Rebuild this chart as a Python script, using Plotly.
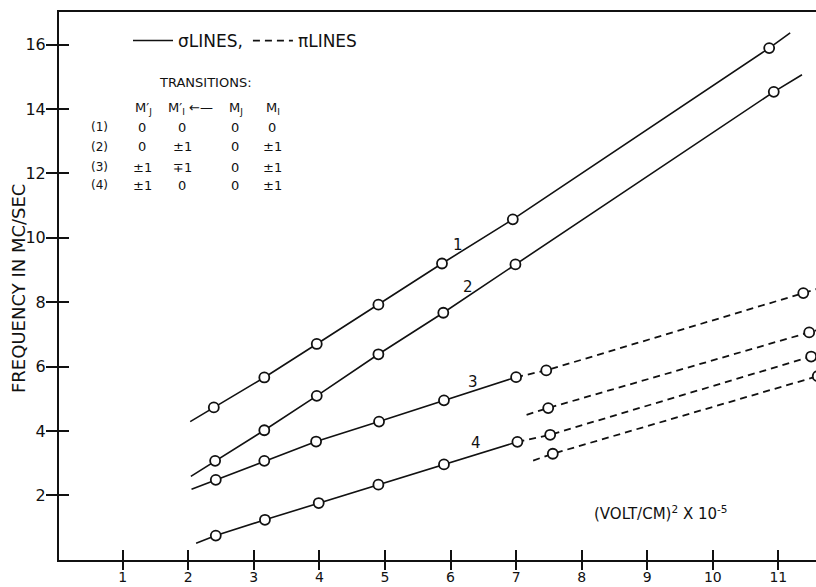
import plotly.graph_objects as go

# ---------------- data ----------------
# sigma lines: measured points (x = (VOLT/CM)^2 x 1e-5, y = MC/SEC)
s1_x = [2.39, 3.16, 3.96, 4.90, 5.87, 6.95, 10.86]
s1_y = [4.73, 5.66, 6.70, 7.92, 9.20, 10.57, 15.89]
s2_x = [2.41, 3.16, 3.96, 4.90, 5.89, 6.99, 10.93]
s2_y = [3.07, 4.02, 5.09, 6.38, 7.67, 9.17, 14.53]
s3_x = [2.42, 3.16, 3.95, 4.91, 5.90, 7.00]
s3_y = [2.48, 3.07, 3.67, 4.29, 4.95, 5.67]
s4_x = [2.42, 3.17, 3.99, 4.90, 5.90, 7.02]
s4_y = [0.75, 1.24, 1.76, 2.33, 2.96, 3.66]
# fitted-line end points (start, end) of the sigma lines
s1_line_x = [2.03, 11.18]; s1_line_y = [4.29, 16.36]
s2_line_x = [2.04, 11.36]; s2_line_y = [2.59, 15.06]
s3_line_x = [2.05, 7.00];  s3_line_y = [2.19, 5.67]
s4_line_x = [2.12, 7.02];  s4_line_y = [0.51, 3.66]

# pi lines: measured points
pa_x = [7.46, 11.38]; pa_y = [5.88, 8.28]
pb_x = [7.49, 11.47]; pb_y = [4.71, 7.06]
pc_x = [7.52, 11.50]; pc_y = [3.88, 6.31]
pd_x = [7.56, 11.60]; pd_y = [3.29, 5.70]
# pi line end points (start, end)
pa_line_x = [7.00, 11.62]; pa_line_y = [5.67, 8.43]
pb_line_x = [7.16, 11.62]; pb_line_y = [4.50, 7.15]
pc_line_x = [7.02, 11.62]; pc_line_y = [3.66, 6.38]
pd_line_x = [7.26, 11.62]; pd_line_y = [3.08, 5.72]

line_labels = ["1", "2", "3", "4"]
label_x = [6.12, 6.27, 6.35, 6.39]
label_y = [9.77, 8.46, 5.53, 3.61]

x_ticks = list(range(1, 12))
y_ticks = [2, 4, 6, 8, 10, 12, 14, 16]

table_header = ["M′<sub>J</sub>", "M′<sub>I</sub> ←—", "M<sub>J</sub>", "M<sub>I</sub>"]
table_rows = ["(1)", "(2)", "(3)", "(4)"]
table_vals = [["0", "0", "0", "0"],
              ["0", "±1", "0", "±1"],
              ["±1", "∓1", "0", "±1"],
              ["±1", "0", "0", "±1"]]

# ---------------- figure ----------------
W, H = 816, 587
ML, MR, MT, MB = 59, 0, 12, 27
FONT = "DejaVu Sans"
BLACK = "#111111"

def px(x):
    return (x - ML) / (W - ML - MR)

def py(y):
    return (H - MB - y) / (H - MT - MB)

fig = go.Figure()

def full(line_x, line_y, pts_x, pts_y):
    xs = [line_x[0]] + pts_x + [line_x[1]]
    ys = [line_y[0]] + pts_y + [line_y[1]]
    return xs, ys

sig = [(s1_line_x, s1_line_y, s1_x, s1_y),
       (s2_line_x, s2_line_y, s2_x, s2_y),
       (s3_line_x, s3_line_y, s3_x, s3_y),
       (s4_line_x, s4_line_y, s4_x, s4_y)]
pis = [(pa_line_x, pa_line_y, pa_x, pa_y),
       (pb_line_x, pb_line_y, pb_x, pb_y),
       (pc_line_x, pc_line_y, pc_x, pc_y),
       (pd_line_x, pd_line_y, pd_x, pd_y)]

for i, (lx, ly, xs, ys) in enumerate(sig):
    X, Y = full(lx, ly, xs, ys)
    fig.add_trace(go.Scatter(x=X, y=Y, mode="lines",
                             line=dict(color=BLACK, width=1.6),
                             name="σLINES,", showlegend=(i == 0),
                             hoverinfo="skip"))
for i, (lx, ly, xs, ys) in enumerate(pis):
    X, Y = full(lx, ly, xs, ys)
    fig.add_trace(go.Scatter(x=X, y=Y, mode="lines",
                             line=dict(color=BLACK, width=1.8, dash="7px,5px"),
                             name="πLINES", showlegend=(i == 0),
                             hoverinfo="skip"))
for lx, ly, xs, ys in sig + pis:
    fig.add_trace(go.Scatter(x=xs, y=ys, mode="markers",
                             marker=dict(symbol="circle", size=10, color="white",
                                         line=dict(color=BLACK, width=1.8)),
                             showlegend=False))

# curve labels
for t, x, y in zip(line_labels, label_x, label_y):
    fig.add_annotation(x=x, y=y, text=t, showarrow=False,
                       xanchor="center", yanchor="middle",
                       font=dict(family=FONT, size=15, color=BLACK))

def ptext(x, y, t, size, xanchor="center", yanchor="middle", angle=0):
    fig.add_annotation(x=px(x), y=py(y), xref="paper", yref="paper",
                       xanchor=xanchor, yanchor=yanchor, text=t, showarrow=False,
                       textangle=angle,
                       font=dict(family=FONT, size=size, color=BLACK))

# transitions table
ptext(205, 82, "TRANSITIONS:", 13)
col_x = [143, 190, 236, 273]
for cx, t in zip(col_x, table_header):
    ptext(cx, 108, t, 13)
row_y = [127, 147, 167, 185]
val_x = [142, 182, 235, 272]
for ry, lab, vals in zip(row_y, table_rows, table_vals):
    ptext(99, ry, lab, 12)
    for vx, v in zip(val_x, vals):
        ptext(vx, ry, v, 13)

# axis titles
ptext(730, 525, "(VOLT/CM)<sup>2</sup> X 10<sup>-5</sup>", 15, "right", "bottom")
ptext(18, 289, "FREQUENCY IN MC/SEC", 18, "center", "middle", -90)

xr = [0.029, 11.574]
yr = [-0.009, 17.01]
fig.update_layout(
    width=W, height=H,
    margin=dict(l=ML, r=MR, t=MT, b=MB, pad=0, autoexpand=False),
    paper_bgcolor="white", plot_bgcolor="white",
    font=dict(family=FONT, color=BLACK),
    showlegend=True,
    legend=dict(orientation="h", x=px(128), y=py(41), xanchor="left", yanchor="middle",
                font=dict(family=FONT, size=17, color=BLACK),
                bgcolor="rgba(0,0,0,0)", itemwidth=40, tracegroupgap=0),
    xaxis=dict(range=xr, tickvals=x_ticks, automargin=False,
               ticks="outside", ticklen=8, tickwidth=1.6, tickcolor=BLACK,
               showline=True, linewidth=2, linecolor=BLACK, mirror=True,
               showgrid=False, zeroline=False, ticklabelstandoff=-5,
               tickfont=dict(family=FONT, size=14, color=BLACK)),
    yaxis=dict(range=yr, tickvals=y_ticks, automargin=False,
               ticks="outside", ticklen=11, tickwidth=1.6, tickcolor=BLACK,
               showline=True, linewidth=2, linecolor=BLACK, mirror=False,
               showgrid=False, zeroline=False, ticklabelstandoff=-3,
               tickfont=dict(family=FONT, size=16, color=BLACK)),
    xaxis2=dict(range=xr, overlaying="x", tickvals=x_ticks, ticks="inside", ticklen=10,
                tickwidth=1.6, tickcolor=BLACK, showticklabels=False, showline=False,
                showgrid=False, zeroline=False, side="bottom", automargin=False),
    yaxis2=dict(range=yr, overlaying="y", tickvals=y_ticks, ticks="inside", ticklen=10,
                tickwidth=1.6, tickcolor=BLACK, showticklabels=False, showline=False,
                showgrid=False, zeroline=False, side="left", automargin=False),
)
# invisible trace to activate the inner tick axes
fig.add_trace(go.Scatter(x=[None], y=[None], xaxis="x2", yaxis="y2",
                         showlegend=False, hoverinfo="skip"))

fig.write_html("out.html", config={"displayModeBar": False},
               post_script="document.body.style.margin='0px';document.body.style.overflow='hidden';")
